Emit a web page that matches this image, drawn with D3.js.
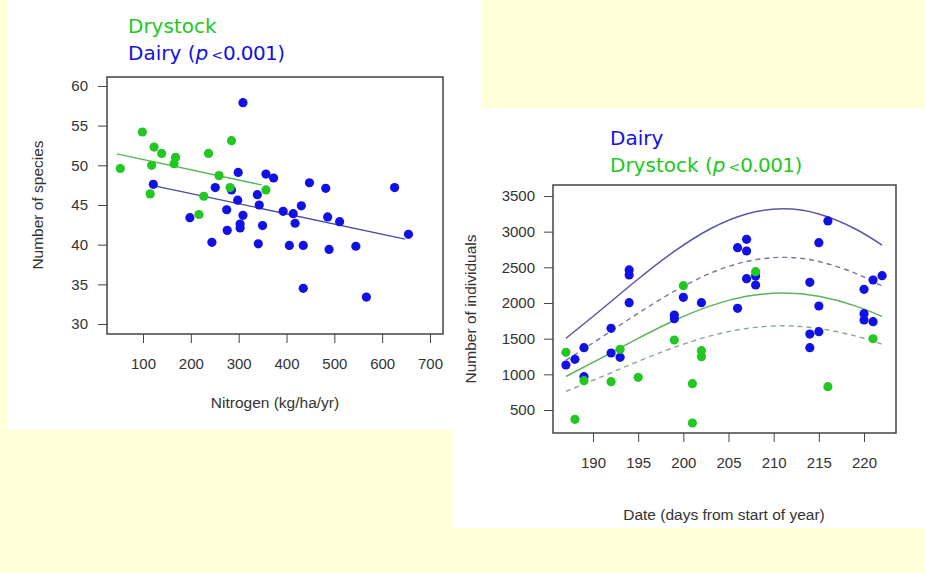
<!DOCTYPE html>
<html>
<head>
<meta charset="utf-8">
<script src="https://cdn.jsdelivr.net/npm/d3@7"></script>
<style>
  body { margin: 0; background: #ffffd8; }
  svg { display: block; }
  .tick text { font-family: "Liberation Sans", Arial, sans-serif; font-size: 15px; fill: #333; }
  .tick line { stroke: #444; }
  .axis-title { font-family: "Liberation Sans", Arial, sans-serif; font-size: 15.5px; fill: #333; }
  .legend { font-family: "DejaVu Sans", sans-serif; font-size: 20px; }
</style>
</head>
<body>
<svg id="chart" width="925" height="573"></svg>
<script>
// Left plot: species richness vs nitrogen
const dairyNitrogen = [309, 121.5, 299, 357, 373, 251, 285, 298, 339, 343, 275, 309, 198, 303, 303, 350, 276, 244, 341,
  448, 482, 626, 431, 393, 414, 418, 486, 511, 655, 406, 435, 489, 545, 435, 567];
const dairySpecies = [57.9, 47.6, 49.1, 48.9, 48.4, 47.2, 46.9, 45.6, 46.3, 45.0, 44.4, 43.7, 43.4, 42.6, 42.1, 42.4, 41.8, 40.3, 40.1,
  47.8, 47.1, 47.2, 44.9, 44.2, 43.9, 42.7, 43.5, 42.9, 41.3, 39.9, 39.9, 39.4, 39.8, 34.5, 33.4];
const dryNitrogen = [52.5, 98.6, 123, 139, 118, 168, 165, 237, 285, 259, 282, 357, 115, 227, 217];
const drySpecies = [49.6, 54.2, 52.3, 51.5, 50.0, 51.0, 50.2, 51.5, 53.1, 48.7, 47.2, 46.9, 46.4, 46.1, 43.8];
// fitted lines: [nitrogen start, nitrogen end], [species start, species end]
const dryFitN = [45, 348];
const dryFitS = [51.43, 47.52];
const dairyFitN = [121.5, 648];
const dairyFitS = [47.43, 40.71];
const nitrogenTicks = [100, 200, 300, 400, 500, 600, 700];
const speciesTicks = [30, 35, 40, 45, 50, 55, 60];

// Right plot: individuals vs date
const dairyDate = [187, 188, 189, 189, 192, 192, 193, 194, 194, 194, 199, 199, 200, 202, 206, 207, 207, 207, 208, 208, 206,
  216, 215, 214, 215, 214, 215, 214, 222, 221, 220, 220, 220, 221];
const dairyCount = [1131, 1210, 1373, 967, 1645, 1299, 1239, 2463, 2393, 2004, 1830, 1780, 2080, 2004, 2775, 2893, 2729, 2341, 2378, 2252, 1925,
  3150, 2845, 2290, 1958, 1565, 1598, 1373, 2383, 2322, 2192, 1850, 1762, 1738];
const dryDate = [187, 188, 189, 192, 193, 195, 199, 200, 201, 201, 202, 202, 208, 216, 221];
const dryCount = [1308, 369, 911, 897, 1351, 958, 1481, 2243, 869, 318, 1331, 1247, 2439, 827, 1499];
const curveDays = [187, 191, 195, 199, 203, 207, 211, 215, 219, 222];
const dairyUpper = [1505, 1916, 2336, 2724, 3041, 3248, 3320, 3248, 3041, 2812];
const dairyMid = [1196, 1523, 1857, 2165, 2418, 2582, 2640, 2582, 2418, 2236];
const dryUpper = [970, 1235, 1505, 1755, 1960, 2093, 2140, 2093, 1960, 1813];
const dryMid = [761, 969, 1182, 1378, 1539, 1643, 1680, 1643, 1539, 1423];
const dateTicks = [190, 195, 200, 205, 210, 215, 220];
const countTicks = [500, 1000, 1500, 2000, 2500, 3000, 3500];

const BLUE = '#1111e6', GREEN = '#22c722';

const svg = d3.select('#chart');

// white panels behind the two plots
svg.append('rect').attr('x', 8).attr('y', 0).attr('width', 474).attr('height', 430).attr('fill', '#fff');
svg.append('rect').attr('x', 453).attr('y', 108).attr('width', 472).attr('height', 420).attr('fill', '#fff');

// draws R-style axes and a box for one panel
function drawFrame(x, y, xTicks, yTicks, xPad, yPad) {
  const [x0, x1] = x.range(), [y1, y0] = y.range();
  svg.append('g').attr('transform', `translate(0,${y1})`)
    .call(d3.axisBottom(x).tickValues(xTicks).tickFormat(d3.format('d')).tickSize(9).tickPadding(xPad))
    .call(g => g.select('.domain').remove());
  svg.append('g').attr('transform', `translate(${x0},0)`)
    .call(d3.axisLeft(y).tickValues(yTicks).tickFormat(d3.format('d')).tickSize(9).tickPadding(yPad))
    .call(g => g.select('.domain').remove());
  svg.append('rect').attr('x', x0).attr('y', y0).attr('width', x1 - x0).attr('height', y1 - y0)
    .attr('fill', 'none').attr('stroke', '#444').attr('stroke-width', 1.5);
}

function dots(x, y, xs, ys, color) {
  svg.append('g').selectAll('circle').data(xs).enter().append('circle')
    .attr('cx', (d) => x(d)).attr('cy', (d, i) => y(ys[i])).attr('r', 4.6).attr('fill', color);
}

function legend(xPos, yPos, lines) {
  lines.forEach(([label, color, withP], i) => {
    const t = svg.append('text').attr('class', 'legend').attr('x', xPos).attr('y', yPos + i * 27).attr('fill', color);
    t.append('tspan').text(label);
    if (withP) {
      t.append('tspan').text(' (');
      t.append('tspan').attr('font-style', 'italic').text('p');
      t.append('tspan').attr('font-size', '14px').attr('dx', 3).text('<');
      t.append('tspan').attr('letter-spacing', '-0.6').text('0.001)');
    }
  });
}

// ---- left plot ----
const xL = d3.scaleLinear().domain([24.7, 727.2]).range([107, 443]);
const yL = d3.scaleLinear().domain([28.74, 61.13]).range([334, 77]);
drawFrame(xL, yL, nitrogenTicks, speciesTicks, 15, 10);

svg.append('line').attr('x1', xL(dryFitN[0])).attr('y1', yL(dryFitS[0])).attr('x2', xL(dryFitN[1])).attr('y2', yL(dryFitS[1]))
  .attr('stroke', '#4fb84f').attr('stroke-width', 1.3);
svg.append('line').attr('x1', xL(dairyFitN[0])).attr('y1', yL(dairyFitS[0])).attr('x2', xL(dairyFitN[1])).attr('y2', yL(dairyFitS[1]))
  .attr('stroke', '#4a4a9e').attr('stroke-width', 1.3);

dots(xL, yL, dairyNitrogen, dairySpecies, BLUE);
dots(xL, yL, dryNitrogen, drySpecies, GREEN);

svg.append('text').attr('class', 'axis-title').attr('x', 275).attr('y', 408).attr('text-anchor', 'middle').text('Nitrogen (kg/ha/yr)');
svg.append('text').attr('class', 'axis-title').attr('transform', 'translate(43,205) rotate(-90)').attr('text-anchor', 'middle').text('Number of species');

legend(128, 33, [['Drystock', GREEN, false], ['Dairy', BLUE, true]]);

// ---- right plot ----
const xR = d3.scaleLinear().domain([185.57, 223.54]).range([553, 896]);
const yR = d3.scaleLinear().domain([177.6, 3654]).range([433, 185]);
drawFrame(xR, yR, dateTicks, countTicks, 15, 9);

const curve = (vals) => d3.line().x((d, i) => xR(curveDays[i])).y((d) => yR(d)).curve(d3.curveNatural)(vals);
svg.append('path').attr('d', curve(dairyUpper)).attr('fill', 'none').attr('stroke', '#5a56a8').attr('stroke-width', 1.5);
svg.append('path').attr('d', curve(dairyMid)).attr('fill', 'none').attr('stroke', '#77779a').attr('stroke-width', 1.4).attr('stroke-dasharray', '5,4');
svg.append('path').attr('d', curve(dryUpper)).attr('fill', 'none').attr('stroke', '#5cb45c').attr('stroke-width', 1.5);
svg.append('path').attr('d', curve(dryMid)).attr('fill', 'none').attr('stroke', '#8ea68e').attr('stroke-width', 1.4).attr('stroke-dasharray', '5,4');

dots(xR, yR, dairyDate, dairyCount, BLUE);
dots(xR, yR, dryDate, dryCount, GREEN);

svg.append('text').attr('class', 'axis-title').attr('x', 724).attr('y', 520).attr('text-anchor', 'middle').text('Date (days from start of year)');
svg.append('text').attr('class', 'axis-title').attr('transform', 'translate(476,309) rotate(-90)').attr('text-anchor', 'middle').text('Number of individuals');

legend(610, 145, [['Dairy', BLUE, false], ['Drystock', GREEN, true]]);
</script>
</body>
</html>
